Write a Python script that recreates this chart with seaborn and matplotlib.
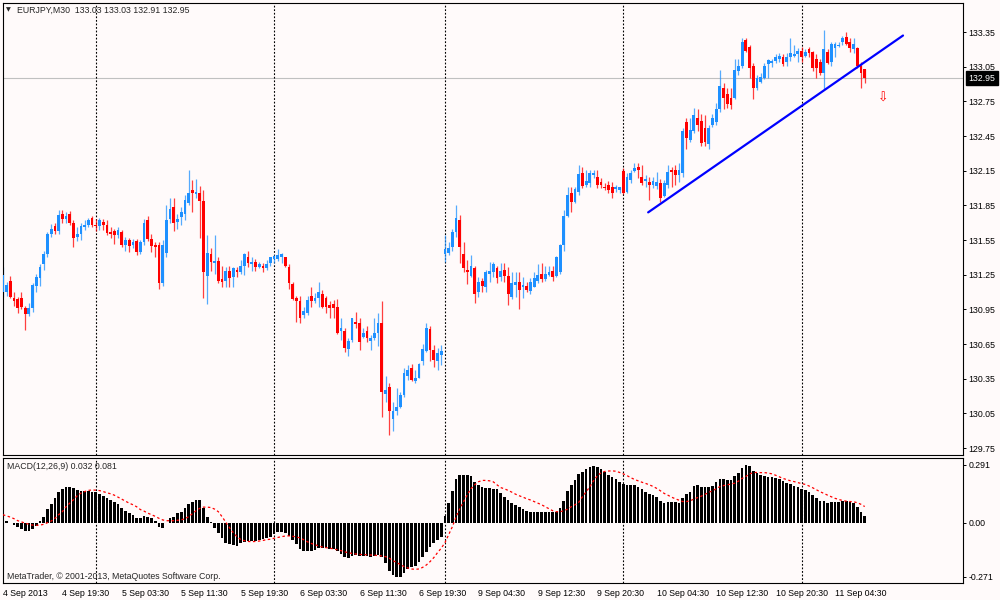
import numpy as np
import pandas as pd
import matplotlib
matplotlib.use("Agg")
import matplotlib.pyplot as plt
import matplotlib.transforms as mtransforms
import seaborn as sns

# EURJPY M30 candles (bar index 0..232)
open_ = [
    131.10, 131.10, 131.20, 131.05, 131.04, 131.05, 130.96, 130.91, 130.96, 131.15,
    131.22, 131.34, 131.43, 131.60, 131.67, 131.63, 131.78, 131.73, 131.78, 131.70,
    131.58, 131.60, 131.66, 131.68, 131.74, 131.68, 131.67, 131.71, 131.68, 131.62,
    131.63, 131.59, 131.62, 131.51, 131.55, 131.51, 131.54, 131.45, 131.53, 131.72,
    131.56, 131.51, 131.51, 131.18, 131.44, 131.73, 131.84, 131.71, 131.75, 131.78,
    131.87, 131.98, 131.95, 131.96, 131.89, 131.24, 131.43, 131.35, 131.37, 131.21,
    131.20, 131.28, 131.23, 131.29, 131.27, 131.33, 131.40, 131.34, 131.36, 131.32,
    131.33, 131.31, 131.35, 131.39, 131.39, 131.40, 131.40, 131.32, 131.17, 131.05,
    131.02, 130.90, 130.92, 131.07, 131.02, 131.05, 131.08, 131.05, 130.99, 131.00,
    130.97, 130.76, 130.76, 130.61, 130.69, 130.84, 130.83, 130.71, 130.76, 130.68,
    130.70, 130.75, 130.83, 130.22, 130.28, 130.00, 130.07, 130.11, 130.21, 130.37,
    130.44, 130.33, 130.36, 130.50, 130.59, 130.78, 130.60, 130.50, 130.56, 131.43,
    131.44, 131.49, 131.62, 131.72, 131.43, 131.29, 131.24, 131.31, 131.10, 131.20,
    131.14, 131.26, 131.27, 131.31, 131.23, 131.29, 131.24, 131.06, 131.16, 131.19,
    131.14, 131.15, 131.11, 131.14, 131.20, 131.26, 131.21, 131.25, 131.28, 131.24,
    131.27, 131.51, 131.76, 131.96, 131.88, 131.97, 132.13, 132.03, 132.04, 132.11,
    132.10, 132.05, 132.01, 132.03, 132.01, 131.99, 131.98, 132.15, 131.97, 132.07,
    132.15, 132.18, 132.10, 132.06, 132.05, 132.03, 132.02, 132.04, 131.93, 132.03,
    132.16, 132.16, 132.11, 132.13, 132.57, 132.42, 132.49, 132.61, 132.58, 132.52,
    132.38, 132.55, 132.57, 132.68, 132.87, 132.81, 132.78, 132.78, 133.01, 133.06,
    133.28, 133.22, 133.06, 132.87, 132.92, 132.95, 133.07, 133.08, 133.10, 133.12,
    133.13, 133.09, 133.13, 133.14, 133.16, 133.19, 133.14, 133.20, 133.18, 133.12,
    133.09, 133.00, 133.18, 133.09, 133.21, 133.23, 133.26, 133.31, 133.26, 133.20,
    133.21, 133.06, 133.03]

high = [
    131.32, 131.19, 131.24, 131.10, 131.06, 131.10, 130.98, 131.01, 131.18, 131.26,
    131.34, 131.46, 131.62, 131.69, 131.70, 131.81, 131.81, 131.79, 131.80, 131.72,
    131.66, 131.70, 131.72, 131.74, 131.76, 131.73, 131.74, 131.73, 131.72, 131.66,
    131.65, 131.66, 131.64, 131.58, 131.57, 131.56, 131.56, 131.55, 131.73, 131.76,
    131.60, 131.53, 131.53, 131.55, 131.85, 131.91, 131.91, 131.78, 131.84, 131.94,
    132.16, 132.07, 132.08, 132.02, 131.98, 131.59, 131.48, 131.59, 131.40, 131.33,
    131.32, 131.33, 131.32, 131.32, 131.38, 131.44, 131.46, 131.40, 131.39, 131.36,
    131.35, 131.38, 131.40, 131.42, 131.47, 131.44, 131.40, 131.34, 131.19, 131.07,
    131.07, 130.97, 131.07, 131.14, 131.09, 131.19, 131.12, 131.07, 131.02, 131.03,
    131.04, 130.88, 130.79, 130.70, 130.88, 130.93, 130.88, 130.79, 130.81, 130.73,
    130.88, 130.92, 131.02, 130.37, 130.31, 130.15, 130.27, 130.24, 130.44, 130.47,
    130.48, 130.43, 130.49, 130.65, 130.83, 130.81, 130.64, 130.62, 130.64, 131.59,
    131.53, 131.65, 131.85, 131.77, 131.53, 131.38, 131.42, 131.33, 131.23, 131.22,
    131.29, 131.36, 131.36, 131.33, 131.35, 131.35, 131.32, 131.27, 131.27, 131.27,
    131.23, 131.19, 131.22, 131.27, 131.34, 131.35, 131.33, 131.33, 131.33, 131.41,
    131.52, 131.81, 132.01, 132.01, 132.01, 132.20, 132.18, 132.16, 132.16, 132.16,
    132.16, 132.09, 132.04, 132.06, 132.05, 132.03, 132.01, 132.17, 132.13, 132.16,
    132.22, 132.22, 132.20, 132.11, 132.10, 132.10, 132.14, 132.08, 132.07, 132.20,
    132.18, 132.20, 132.22, 132.52, 132.61, 132.61, 132.69, 132.68, 132.64, 132.63,
    132.55, 132.64, 132.74, 133.02, 132.91, 132.87, 132.87, 133.12, 133.12, 133.30,
    133.30, 133.24, 133.08, 132.98, 133.00, 133.08, 133.12, 133.12, 133.16, 133.17,
    133.16, 133.17, 133.30, 133.24, 133.21, 133.22, 133.20, 133.22, 133.19, 133.16,
    133.12, 133.37, 133.20, 133.26, 133.26, 133.26, 133.32, 133.35, 133.30, 133.30,
    133.22, 133.09, 133.03]

low = [
    131.06, 131.07, 131.05, 130.98, 130.92, 130.95, 130.77, 130.89, 130.93, 131.10,
    131.15, 131.29, 131.40, 131.58, 131.60, 131.60, 131.70, 131.70, 131.68, 131.49,
    131.54, 131.55, 131.64, 131.66, 131.66, 131.63, 131.64, 131.64, 131.59, 131.57,
    131.52, 131.57, 131.49, 131.46, 131.45, 131.48, 131.42, 131.43, 131.51, 131.54,
    131.45, 131.40, 131.13, 131.15, 131.40, 131.70, 131.63, 131.65, 131.68, 131.72,
    131.85, 131.79, 131.91, 131.57, 131.05, 131.00, 131.28, 131.26, 131.18, 131.14,
    131.14, 131.14, 131.14, 131.23, 131.26, 131.25, 131.32, 131.28, 131.28, 131.31,
    131.27, 131.29, 131.33, 131.35, 131.37, 131.35, 131.32, 131.13, 131.03, 130.84,
    130.83, 130.88, 130.90, 130.97, 131.01, 130.97, 130.96, 130.92, 130.88, 130.88,
    130.74, 130.69, 130.58, 130.55, 130.67, 130.79, 130.60, 130.70, 130.67, 130.60,
    130.69, 130.63, 130.02, 130.15, 129.86, 129.90, 130.04, 130.10, 130.19, 130.34,
    130.33, 130.31, 130.36, 130.47, 130.58, 130.50, 130.45, 130.43, 130.47, 131.36,
    131.42, 131.46, 131.58, 131.35, 131.27, 131.17, 131.23, 131.01, 131.06, 131.10,
    131.10, 131.19, 131.23, 131.18, 131.20, 131.19, 130.99, 131.04, 131.06, 130.95,
    131.05, 131.10, 131.08, 131.14, 131.18, 131.19, 131.20, 131.24, 131.20, 131.23,
    131.26, 131.46, 131.75, 131.79, 131.87, 131.94, 132.00, 132.01, 132.01, 132.09,
    132.00, 132.00, 131.98, 131.96, 131.91, 131.97, 131.96, 131.95, 131.96, 132.04,
    132.14, 132.09, 132.03, 132.01, 131.90, 132.00, 131.99, 131.88, 131.92, 132.00,
    132.01, 132.03, 132.05, 132.10, 132.34, 132.40, 132.48, 132.49, 132.36, 132.36,
    132.34, 132.53, 132.55, 132.66, 132.68, 132.69, 132.68, 132.77, 132.98, 133.04,
    133.18, 132.95, 132.77, 132.85, 132.91, 132.94, 132.95, 133.05, 133.08, 133.09,
    133.06, 133.06, 133.10, 133.13, 133.09, 133.09, 133.13, 133.13, 133.01, 132.95,
    132.98, 132.86, 133.07, 133.06, 133.13, 133.22, 133.24, 133.24, 133.18, 133.17,
    133.04, 132.87, 132.91]

close = [
    131.25, 131.16, 131.06, 131.02, 130.96, 130.97, 130.91, 130.96, 131.16, 131.23,
    131.32, 131.43, 131.60, 131.65, 131.63, 131.77, 131.73, 131.76, 131.70, 131.57,
    131.60, 131.67, 131.68, 131.72, 131.68, 131.67, 131.72, 131.68, 131.61, 131.60,
    131.59, 131.64, 131.51, 131.55, 131.50, 131.53, 131.45, 131.53, 131.70, 131.56,
    131.50, 131.49, 131.18, 131.51, 131.72, 131.82, 131.70, 131.73, 131.79, 131.90,
    131.96, 131.96, 131.97, 131.89, 131.27, 131.44, 131.36, 131.37, 131.20, 131.19,
    131.28, 131.22, 131.31, 131.27, 131.33, 131.43, 131.35, 131.36, 131.32, 131.34,
    131.31, 131.34, 131.40, 131.41, 131.42, 131.43, 131.33, 131.18, 131.04, 131.02,
    130.88, 130.94, 131.03, 131.02, 131.05, 131.10, 130.97, 130.97, 130.96, 130.96,
    130.75, 130.79, 130.62, 130.68, 130.88, 130.82, 130.67, 130.75, 130.70, 130.70,
    130.75, 130.83, 130.24, 130.25, 130.07, 130.07, 130.11, 130.21, 130.40, 130.43,
    130.34, 130.36, 130.48, 130.61, 130.79, 130.60, 130.51, 130.57, 130.59, 131.47,
    131.48, 131.62, 131.74, 131.49, 131.31, 131.27, 131.33, 131.08, 131.19, 131.15,
    131.27, 131.28, 131.34, 131.22, 131.28, 131.24, 131.08, 131.18, 131.19, 131.12,
    131.16, 131.12, 131.19, 131.22, 131.25, 131.21, 131.26, 131.27, 131.23, 131.40,
    131.51, 131.76, 131.94, 131.88, 131.99, 132.12, 132.02, 132.06, 132.13, 132.13,
    132.03, 132.03, 132.00, 131.98, 131.96, 132.01, 132.01, 131.96, 132.10, 132.13,
    132.17, 132.16, 132.04, 132.08, 132.03, 132.06, 132.05, 131.91, 132.04, 132.14,
    132.14, 132.11, 132.16, 132.49, 132.43, 132.50, 132.63, 132.55, 132.39, 132.40,
    132.52, 132.61, 132.68, 132.88, 132.78, 132.73, 132.72, 133.02, 133.06, 133.26,
    133.19, 133.04, 132.87, 132.95, 132.96, 133.06, 133.11, 133.10, 133.13, 133.14,
    133.07, 133.13, 133.17, 133.16, 133.19, 133.13, 133.18, 133.17, 133.04, 133.04,
    133.00, 133.20, 133.08, 133.25, 133.25, 133.24, 133.30, 133.25, 133.21, 133.25,
    133.06, 133.00, 132.95]

# MACD(12,26,9) main line (histogram) and signal line
macd = [
    0.018, 0.010, -0.003, -0.012, -0.020, -0.032, -0.042, -0.042, -0.032, -0.017,
    0.008, 0.030, 0.069, 0.094, 0.122, 0.152, 0.167, 0.177, 0.181, 0.172,
    0.164, 0.161, 0.161, 0.161, 0.156, 0.152, 0.144, 0.135, 0.125, 0.114,
    0.102, 0.094, 0.072, 0.060, 0.050, 0.038, 0.022, 0.022, 0.033, 0.030,
    0.022, 0.010, -0.020, -0.025, -0.003, 0.022, 0.030, 0.047, 0.055, 0.072,
    0.094, 0.105, 0.114, 0.114, 0.072, 0.030, 0.002, -0.028, -0.054, -0.079,
    -0.100, -0.109, -0.112, -0.115, -0.104, -0.095, -0.092, -0.092, -0.090, -0.087,
    -0.084, -0.079, -0.074, -0.059, -0.048, -0.048, -0.054, -0.067, -0.087, -0.109,
    -0.132, -0.140, -0.140, -0.140, -0.137, -0.129, -0.129, -0.129, -0.132, -0.134,
    -0.140, -0.157, -0.171, -0.179, -0.167, -0.162, -0.166, -0.167, -0.167, -0.171,
    -0.167, -0.162, -0.174, -0.204, -0.241, -0.263, -0.274, -0.274, -0.254, -0.232,
    -0.224, -0.217, -0.196, -0.171, -0.145, -0.120, -0.100, -0.087, -0.070, 0.035,
    0.097, 0.161, 0.217, 0.239, 0.239, 0.239, 0.234, 0.206, 0.189, 0.177,
    0.172, 0.172, 0.169, 0.167, 0.147, 0.130, 0.114, 0.100, 0.089, 0.077,
    0.067, 0.060, 0.055, 0.055, 0.055, 0.055, 0.055, 0.055, 0.052, 0.052,
    0.072, 0.110, 0.159, 0.189, 0.214, 0.242, 0.256, 0.269, 0.278, 0.284,
    0.281, 0.269, 0.256, 0.239, 0.227, 0.217, 0.206, 0.192, 0.189, 0.189,
    0.189, 0.181, 0.167, 0.156, 0.144, 0.139, 0.130, 0.109, 0.100, 0.102,
    0.102, 0.102, 0.100, 0.122, 0.144, 0.156, 0.184, 0.189, 0.181, 0.181,
    0.181, 0.184, 0.206, 0.217, 0.217, 0.214, 0.214, 0.234, 0.247, 0.273,
    0.289, 0.286, 0.259, 0.247, 0.239, 0.234, 0.231, 0.227, 0.222, 0.217,
    0.211, 0.201, 0.194, 0.184, 0.177, 0.167, 0.164, 0.156, 0.139, 0.125,
    0.110, 0.110, 0.097, 0.102, 0.105, 0.105, 0.110, 0.110, 0.105, 0.100,
    0.080, 0.055, 0.032]

signal = [
    0.040, 0.034, 0.028, 0.020, 0.010, 0.004, -0.002, -0.008, -0.012, -0.013,
    -0.012, -0.008, 0.000, 0.008, 0.022, 0.040, 0.055, 0.080, 0.098, 0.115,
    0.135, 0.148, 0.156, 0.162, 0.164, 0.163, 0.161, 0.156, 0.150, 0.145,
    0.138, 0.128, 0.118, 0.108, 0.098, 0.090, 0.080, 0.066, 0.058, 0.048,
    0.040, 0.032, 0.022, 0.014, 0.010, 0.010, 0.010, 0.012, 0.014, 0.020,
    0.030, 0.045, 0.060, 0.072, 0.078, 0.078, 0.076, 0.068, 0.055, 0.030,
    0.002, -0.025, -0.050, -0.070, -0.084, -0.090, -0.094, -0.095, -0.094, -0.092,
    -0.089, -0.085, -0.083, -0.078, -0.074, -0.070, -0.067, -0.066, -0.068, -0.072,
    -0.076, -0.086, -0.096, -0.104, -0.110, -0.117, -0.122, -0.125, -0.128, -0.131,
    -0.136, -0.140, -0.146, -0.151, -0.154, -0.157, -0.159, -0.160, -0.161, -0.162,
    -0.163, -0.165, -0.167, -0.170, -0.178, -0.190, -0.200, -0.210, -0.220, -0.227,
    -0.232, -0.234, -0.232, -0.224, -0.212, -0.195, -0.175, -0.150, -0.128, -0.100,
    -0.060, -0.020, 0.030, 0.070, 0.105, 0.140, 0.170, 0.190, 0.205, 0.212,
    0.212, 0.210, 0.205, 0.190, 0.176, 0.170, 0.162, 0.153, 0.143, 0.135,
    0.128, 0.120, 0.114, 0.106, 0.098, 0.090, 0.080, 0.070, 0.060, 0.055,
    0.055, 0.060, 0.068, 0.080, 0.090, 0.102, 0.130, 0.155, 0.180, 0.210,
    0.235, 0.250, 0.257, 0.259, 0.260, 0.258, 0.252, 0.245, 0.236, 0.226,
    0.217, 0.210, 0.203, 0.197, 0.190, 0.182, 0.172, 0.160, 0.147, 0.138,
    0.128, 0.120, 0.113, 0.106, 0.106, 0.110, 0.118, 0.126, 0.133, 0.142,
    0.152, 0.160, 0.170, 0.181, 0.186, 0.190, 0.194, 0.198, 0.208, 0.222,
    0.232, 0.245, 0.251, 0.252, 0.251, 0.251, 0.249, 0.245, 0.238, 0.230,
    0.222, 0.216, 0.210, 0.206, 0.201, 0.196, 0.192, 0.184, 0.175, 0.165,
    0.155, 0.147, 0.138, 0.130, 0.122, 0.117, 0.111, 0.108, 0.106, 0.105,
    0.100, 0.092, 0.081]

time_ticks = [0, 16, 32, 48, 64, 80, 96, 112, 128, 144, 160, 176, 192, 208, 224]
time_labels = ["4 Sep 2013", "4 Sep 19:30", "5 Sep 03:30", "5 Sep 11:30", "5 Sep 19:30",
               "6 Sep 03:30", "6 Sep 11:30", "6 Sep 19:30", "9 Sep 04:30", "9 Sep 12:30",
               "9 Sep 20:30", "10 Sep 04:30", "10 Sep 12:30", "10 Sep 20:30", "11 Sep 04:30"]
day_starts = [25, 73, 119, 167, 215]
price_ticks = [133.35, 133.05, 132.75, 132.45, 132.15, 131.85, 131.55,
               131.25, 130.95, 130.65, 130.35, 130.05, 129.75]
macd_ticks = [0.291, 0.0, -0.271]
macd_tick_labels = ["0.291", "0.00", "-0.271"]
last_price = 132.95
trend_x = [173.7, 242.3]
trend_y = [131.79, 133.32]

bg = "#FFFAFA"
blue = "#1E90FF"
red = "#FF0000"

sns.set_style("white", {"axes.facecolor": bg, "figure.facecolor": bg})
plt.rcParams["font.family"] = ["Liberation Sans", "DejaVu Sans"]
fs = 6.3

df = pd.DataFrame({"o": open_, "h": high, "l": low, "c": close,
                   "macd": macd, "signal": signal})
df["i"] = np.arange(len(df))
cols = np.where(df["c"] >= df["o"], blue, red)

fig = plt.figure(figsize=(10, 6), dpi=100)
ax = fig.add_axes([0.0027, 0.2417, 0.9603, 0.7538])
ax2 = fig.add_axes([0.0027, 0.0288, 0.9603, 0.2084])

# price panel
ax.axhline(last_price, color="#C0C0C0", lw=0.8, zorder=1)
for d in day_starts:
    ax.axvline(d, color="black", lw=0.8, ls=(0, (1.6, 1.6)), zorder=1)
    ax2.axvline(d, color="black", lw=0.8, ls=(0, (1.6, 1.6)), zorder=1)

ax.vlines(df["i"], df["l"], df["h"], colors=cols, lw=0.9, alpha=0.75, zorder=2)
body = (df["c"] - df["o"]).abs().clip(lower=0.008)
ax.bar(df["i"], body, bottom=np.minimum(df["o"], df["c"]), width=0.75,
       color=cols, linewidth=0, zorder=3)

ax.plot(trend_x, trend_y, color="#0000FF", lw=1.6, zorder=4)
ax.text(236.9, 132.775, "\u21e9", color=red, fontsize=9, ha="center", va="center",
        family=["DejaVu Sans"])

ax.set_xlim(-0.05, 258.45)
ax.set_ylim(129.691, 133.604)
ax.yaxis.tick_right()
ax.set_yticks(price_ticks)
ax.set_yticklabels([f"{p:.2f}" for p in price_ticks])
ax.tick_params(axis="y", direction="out", length=2.2, width=0.7, pad=1.5,
               labelsize=fs, colors="black")
ax.tick_params(axis="x", length=0, labelbottom=False)
ax.set_xlabel("")
ax.set_ylabel("")

trans = mtransforms.blended_transform_factory(ax.transAxes, ax.transData)
ax.text(1.0055, last_price, f"{last_price:.2f}", transform=trans, ha="left", va="center",
        fontsize=fs, color="white",
        bbox=dict(boxstyle="square,pad=0.28", fc="black", ec="black"))

# MACD panel
sns.barplot(x=df["i"], y=df["macd"], native_scale=True, color="black", width=0.72,
            saturation=1, errorbar=None, linewidth=0, ax=ax2, zorder=2)
sns.lineplot(x=df["i"], y=df["signal"], color=red, lw=0.9, ls=(0, (2, 2)), ax=ax2, zorder=3)

ax2.set_xlim(-0.05, 258.45)
ax2.set_ylim(-0.301, 0.326)
ax2.yaxis.tick_right()
ax2.set_yticks(macd_ticks)
ax2.set_yticklabels(macd_tick_labels)
ax2.set_xticks(time_ticks)
ax2.set_xticklabels(time_labels, ha="left")
ax2.tick_params(axis="y", direction="out", length=2.2, width=0.7, pad=1.5,
                labelsize=fs, colors="black")
ax2.tick_params(axis="x", direction="out", length=3, width=0.7, pad=1.5,
                labelsize=fs, colors="black")
ax2.set_xlabel("")
ax2.set_ylabel("")

for a in (ax, ax2):
    for s in a.spines.values():
        s.set_visible(True)
        s.set_color("black")
        s.set_linewidth(0.8)

fig.text(0.006, 1 - 10 / 600, "\u25bc", fontsize=4.5, va="center", ha="left",
         family=["DejaVu Sans"])
fig.text(0.0167, 1 - 10 / 600, "EURJPY,M30  133.03 133.03 132.91 132.95",
         fontsize=fs, va="center", ha="left")
fig.text(0.0067, 1 - 466.5 / 600, "MACD(12,26,9) 0.032 0.081",
         fontsize=fs, va="center", ha="left")
fig.text(0.0067, 1 - 576.5 / 600, "MetaTrader, \u00a9 2001-2013, MetaQuotes Software Corp.",
         fontsize=fs, va="center", ha="left")

fig.savefig("out.png", dpi=100, facecolor=bg)
